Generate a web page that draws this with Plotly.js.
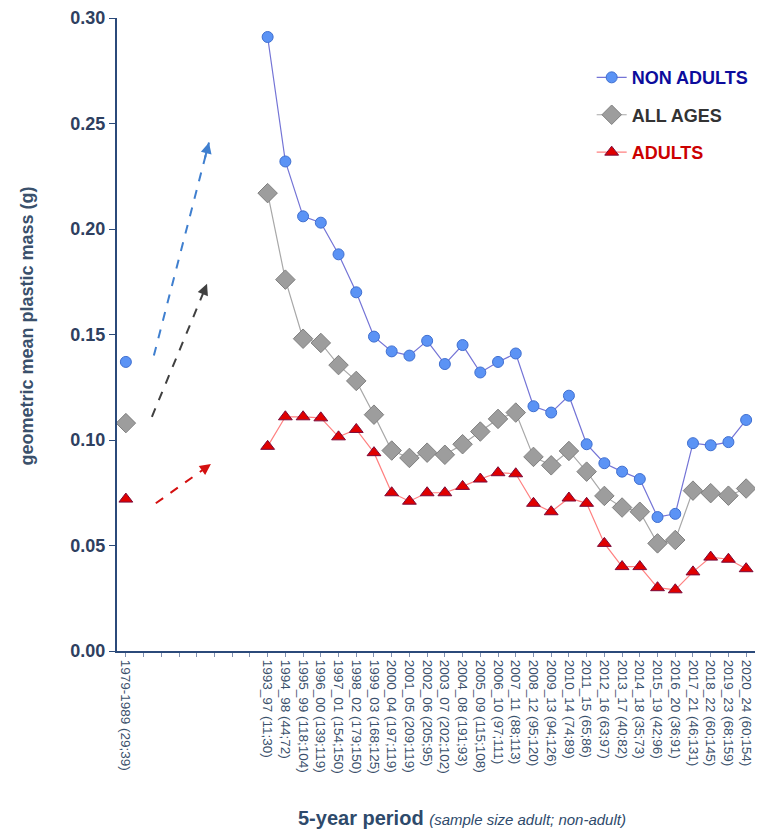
<!DOCTYPE html>
<html>
<head>
<meta charset="utf-8">
<script src="https://cdn.plot.ly/plotly-3.0.1.min.js"></script>
<style>html,body{margin:0;padding:0;background:#fff;}#chart{width:783px;height:832px;}</style>
</head>
<body>
<div id="chart"></div>
<script>
// ---- data ----
const firstPeriod = "1979-1989 (29;39)";
const periods = [
  "1993_97 (11;30)", "1994_98 (44;72)", "1995_99 (118;104)", "1996_00 (139;119)",
  "1997_01 (154;150)", "1998_02 (179;150)", "1999_03 (168;125)", "2000_04 (197;119)",
  "2001_05 (209;119)", "2002_06 (205;95)", "2003_07 (202;102)", "2004_08 (191;93)",
  "2005_09 (115;108)", "2006_10 (97;111)", "2007_11 (88;113)", "2008_12 (95;120)",
  "2009_13 (94;126)", "2010_14 (74;89)", "2011_15 (65;86)", "2012_16 (63;97)",
  "2013_17 (40;82)", "2014_18 (35;73)", "2015_19 (42;96)", "2016_20 (36;91)",
  "2017_21 (46;131)", "2018_22 (60;145)", "2019_23 (68;159)", "2020_24 (60;154)"
];
const nonAdultsFirst = 0.137;
const allAgesFirst = 0.108;
const adultsFirst = 0.072;
const nonAdults = [0.291, 0.232, 0.206, 0.203, 0.188, 0.170, 0.149, 0.142, 0.140, 0.147,
  0.136, 0.145, 0.132, 0.137, 0.141, 0.116, 0.113, 0.121, 0.098, 0.089, 0.085, 0.0815,
  0.0635, 0.065, 0.0985, 0.0975, 0.099, 0.1095];
const allAges = [0.217, 0.176, 0.148, 0.146, 0.1355, 0.128, 0.112, 0.095, 0.0915, 0.094,
  0.093, 0.098, 0.104, 0.110, 0.113, 0.092, 0.088, 0.0948, 0.085, 0.0735, 0.068, 0.066,
  0.051, 0.0526, 0.076, 0.0748, 0.0736, 0.077];
const adults = [0.097, 0.111, 0.111, 0.1105, 0.1015, 0.105, 0.094, 0.075, 0.071, 0.075,
  0.075, 0.078, 0.0815, 0.0845, 0.084, 0.070, 0.066, 0.0725, 0.070, 0.051, 0.040, 0.040,
  0.030, 0.029, 0.0375, 0.0445, 0.0435, 0.039];
const emptySlots = 7;

// ---- build positions ----
const startIdx = 1 + emptySlots;
const labels = [firstPeriod];
for (let i = 0; i < emptySlots; i++) labels.push("");
periods.forEach(p => labels.push(p));
const tickvals = labels.map((_, i) => i);
function series(first, arr) {
  const x = [0], y = [first];
  for (let i = 0; i < emptySlots; i++) { x.push(1 + i); y.push(null); }
  arr.forEach((v, i) => { x.push(startIdx + i); y.push(v); });
  return {x, y};
}
const sNA = series(nonAdultsFirst, nonAdults);
const sAA = series(allAgesFirst, allAges);
const sAD = series(adultsFirst, adults);

const traces = [
  {x: sNA.x, y: sNA.y, mode: 'lines+markers', connectgaps: false, legendgroup: 'a',
   name: '<b><span style="color:#0c0c9c">NON ADULTS</span></b>',
   line: {color: '#7474d6', width: 1.2},
   marker: {symbol: 'circle', size: 11, color: '#5b93f5', line: {color: '#3f6fd0', width: 1}}},
  {x: sAA.x, y: sAA.y, mode: 'lines+markers', connectgaps: false, legendgroup: 'b',
   name: '<b><span style="color:#333333">ALL AGES</span></b>',
   line: {color: '#a8a8a8', width: 1.2},
   marker: {symbol: 'diamond', size: 15, color: '#9d9d9d', line: {color: '#808080', width: 1}}},
  {x: sAD.x, y: sAD.y, mode: 'lines+markers', connectgaps: false, legendgroup: 'c',
   name: '<b><span style="color:#cc0000">ADULTS</span></b>',
   line: {color: '#ff8080', width: 1.2},
   marker: {symbol: 'triangle-up', size: 12, color: '#e00000', line: {color: '#7a0a3a', width: 1}}}
];

// decorative trend arrows (start/end in data space)
const arrows = [
  {x0: 1.58, y0: 0.140, x1: 4.69, y1: 0.241, color: '#3f7fcf'},
  {x0: 1.47, y0: 0.111, x1: 4.58, y1: 0.174, color: '#404040'},
  {x0: 1.69, y0: 0.070, x1: 4.80, y1: 0.0886, color: '#d41010'}
];
const shapes = arrows.map(a => ({type: 'line', xref: 'x', yref: 'y', x0: a.x0, y0: a.y0,
  x1: a.x1, y1: a.y1, line: {color: a.color, width: 2, dash: 'dash'}}));
const annotations = arrows.map(a => ({xref: 'x', yref: 'y', axref: 'x', ayref: 'y',
  x: a.x1, y: a.y1, ax: a.x1 - (a.x1 - a.x0) * 0.08, ay: a.y1 - (a.y1 - a.y0) * 0.08,
  text: '', showarrow: true, arrowhead: 2, arrowsize: 1.1, arrowwidth: 2, arrowcolor: a.color}));

annotations.push({xref: 'paper', yref: 'paper', x: 0, y: 0, xshift: 345, yshift: -167,
  xanchor: 'center', yanchor: 'middle', showarrow: false,
  text: '<b>5-year period</b> <i><span style="font-size:15px">(sample size adult; non-adult)</span></i>',
  font: {family: 'Liberation Sans, Arial, sans-serif', size: 20, color: '#2e4a6b'}});
annotations.push({xref: 'paper', yref: 'paper', x: 0, y: 0.5, xshift: -91, yshift: 8,
  xanchor: 'center', yanchor: 'middle', showarrow: false, textangle: -90,
  text: '<b>geometric mean plastic mass (g)</b>',
  font: {family: 'Liberation Sans, Arial, sans-serif', size: 18, color: '#3a506b'}});

const axisColor = '#2b4a7a';
const layout = {
  width: 783, height: 832,
  margin: {l: 117, r: 28, t: 18, b: 181},
  paper_bgcolor: '#fff', plot_bgcolor: '#fff',
  font: {family: 'Liberation Sans, Arial, sans-serif', color: '#3a506b'},
  showlegend: true,
  legend: {x: 0.744, y: 0.935, xanchor: 'left', yanchor: 'top', tracegroupgap: 11,
    font: {size: 18, family: 'Liberation Sans, Arial, sans-serif'}, bgcolor: 'rgba(0,0,0,0)'},
  xaxis: {type: 'linear', range: [-0.5, 35.5], tickmode: 'array', tickvals: tickvals, ticktext: labels,
    tickangle: 90, ticks: 'outside', ticklen: 4, tickcolor: '#8090b0', showline: true,
    linecolor: axisColor, linewidth: 2, showgrid: false, zeroline: false,
    tickfont: {size: 13.5, color: '#3a506b'}},
  yaxis: {range: [0, 0.30], dtick: 0.05, tickformat: '.2f', ticks: 'outside', ticklen: 6,
    tickcolor: axisColor, showline: true, linecolor: axisColor, linewidth: 2, showgrid: false,
    zeroline: false, tickfont: {size: 18, color: '#2e4060', weight: 'bold'}},
  shapes: shapes,
  annotations: annotations
};
Plotly.newPlot('chart', traces, layout, {displayModeBar: false, staticPlot: true});
</script>
</body>
</html>
